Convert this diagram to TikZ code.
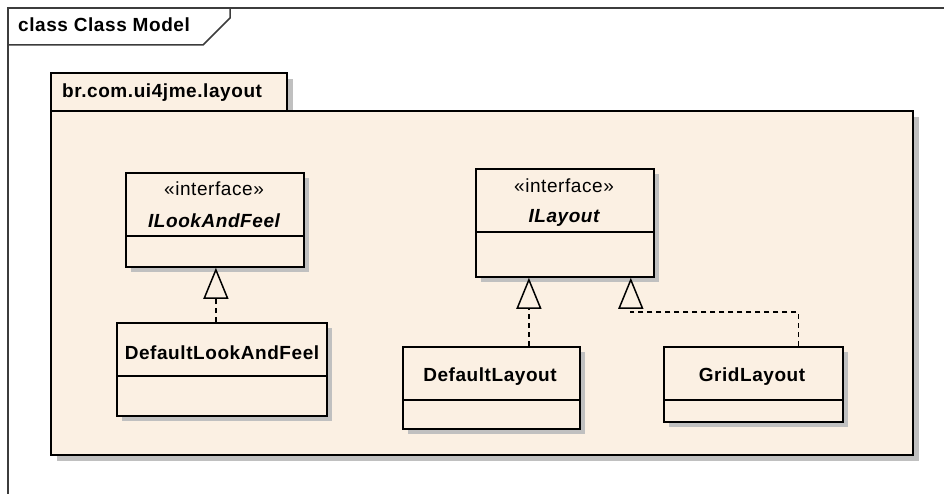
\documentclass[tikz,border=0pt]{standalone}
\usepackage{fontspec}
\setmainfont{Liberation Sans}[LetterSpace=3]
\usetikzlibrary{arrows.meta,shadows}
\definecolor{pkgfill}{RGB}{251,240,227}
\definecolor{shadowgray}{RGB}{192,192,192}
\definecolor{framegray}{RGB}{60,60,60}
\begin{document}
\begin{tikzpicture}[x=1pt,y=-1pt,
  font=\fontsize{19}{21}\selectfont,
  pkgbox/.style={draw=black,line width=1.8pt,fill=pkgfill,inner sep=0pt,anchor=north west,
    drop shadow={shadow xshift=6pt,shadow yshift=-6pt,fill=shadowgray,opacity=1}},
  classbox/.style={draw=black,line width=1.8pt,fill=pkgfill,inner sep=0pt,anchor=north west,
    drop shadow={shadow xshift=5pt,shadow yshift=-5pt,fill=shadowgray,opacity=1}},
  divider/.style={line width=1.6pt},
  stereo/.style={inner sep=0pt},
  cname/.style={inner sep=0pt,font=\fontsize{19}{21}\selectfont\bfseries},
  iname/.style={inner sep=0pt,font=\fontsize{19}{21}\selectfont\bfseries\itshape},
  realize/.style={line width=1.5pt,dash pattern=on 5pt off 4pt,
    -{Triangle[open,length=31pt,width=25pt,line width=1.5pt,fill=pkgfill]}},
  frameline/.style={line width=1.5pt,draw=framegray}]
% canvas
\useasboundingbox (0,0) rectangle (944,494);
\fill[white] (0,0) rectangle (944,494);

% diagram frame with its name tab
\draw[frameline] (8,494) -- (8,8) -- (944,8);
\draw[frameline] (8,45) -- (203,45) -- (230,18) -- (230,8);
\node[cname,anchor=base west] (title) at (18,32) {class Class Model};

% package: tab and body
\node[pkgbox,minimum width=236pt,minimum height=38pt] (pkgtab) at (50,72) {};
\node[pkgbox,minimum width=862pt,minimum height=344pt] (pkg) at (50,110) {};
\node[cname,anchor=base west] (pkgname) at (62,98) {br.com.ui4jme.layout};

% interface ILookAndFeel
\node[classbox,minimum width=178pt,minimum height=94pt] (ilf) at (125,172) {};
\draw[divider] (125,236) -- (303,236);
\node[stereo] (ilfst) at (214,189) {«interface»};
\node[iname] (ilfname) at (214,221) {ILookAndFeel};

% class DefaultLookAndFeel
\node[classbox,minimum width=210pt,minimum height=93pt] (dlf) at (116,322) {};
\draw[divider] (116,376) -- (326,376);
\node[cname] (dlfname) at (222,353) {DefaultLookAndFeel};

% interface ILayout
\node[classbox,minimum width=178pt,minimum height=108pt] (il) at (475,168) {};
\draw[divider] (475,232) -- (653,232);
\node[stereo] (ilst) at (564,186) {«interface»};
\node[iname] (ilname) at (564,218) {ILayout};

% class DefaultLayout
\node[classbox,minimum width=177pt,minimum height=82pt] (dl) at (402,346) {};
\draw[divider] (402,400) -- (579,400);
\node[cname] (dlname) at (490,377) {DefaultLayout};

% class GridLayout
\node[classbox,minimum width=179pt,minimum height=75pt] (gl) at (663,346) {};
\draw[divider] (663,400) -- (842,400);
\node[cname] (glname) at (752,377) {GridLayout};

% realizations
\draw[realize] ([xshift=-6pt]dlf.north) -- ([xshift=1pt]ilf.south);
\draw[realize] ([xshift=37.5pt]dl.north) -- ([xshift=-36pt]il.south);
\draw[realize] ([xshift=-45.5pt]gl.north east) -- ++(0,-34) -| ([xshift=-24pt]il.south east);
\end{tikzpicture}
\end{document}
